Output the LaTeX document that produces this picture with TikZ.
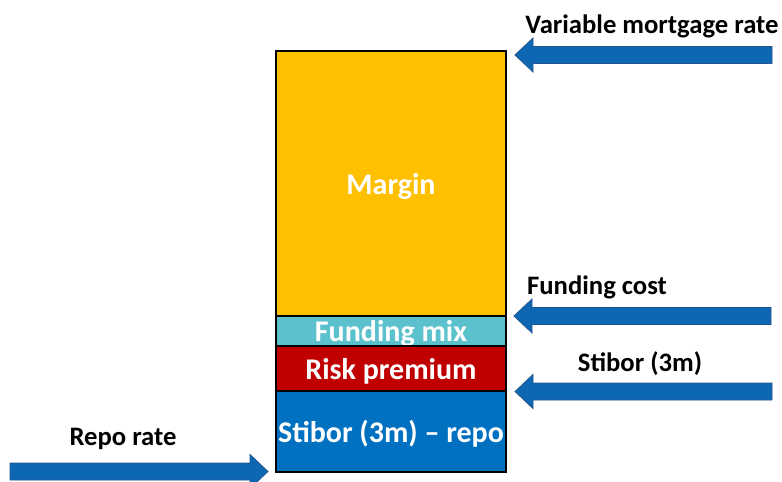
\documentclass[tikz,border=0pt]{standalone}
\usepackage{fontspec}
\setmainfont{Carlito}
\usetikzlibrary{positioning}

\definecolor{margincol}{RGB}{255,192,0}
\definecolor{mixcol}{RGB}{91,193,205}
\definecolor{riskcol}{RGB}{192,0,0}
\definecolor{stiborcol}{RGB}{0,112,192}
\definecolor{arrowcol}{RGB}{14,103,178}
\definecolor{arrowline}{RGB}{35,85,140}

\tikzset{pics/blockarrow/.style={code={
\draw[draw=arrowline, fill=arrowcol, line width=0.6pt, line join=miter] (0,0) -- (18,-17) -- (18,-8.5) -- (#1,-8.5) -- (#1,8.5) -- (18,8.5) -- (18,17) -- cycle;
}}}

\begin{document}
\begin{tikzpicture}[x=0.75pt, y=-0.75pt,
part/.style={draw=black, line width=2.2pt, minimum width=172.5pt, inner sep=0pt, outer sep=0pt, text depth=0pt, text=white, font=\bfseries\fontsize{22.5}{26}\selectfont},
lbl/.style={font=\bfseries\fontsize{20}{24}\selectfont}]
\useasboundingbox (0,0) rectangle (782,482);
% the stacked bar
\node [part, fill=margincol, minimum height=198.75pt, anchor=north west] (margin) at (276,51) {Margin};
\node [part, fill=mixcol, minimum height=22.5pt, below=0pt of margin] (mix) {Funding mix};
\node [part, fill=riskcol, minimum height=33.75pt, below=0pt of mix] (risk) {Risk premium};
\node [part, fill=stiborcol, minimum height=60.75pt, below=0pt of risk] (spread) {Stibor (3m) – repo};
% arrows
\pic (mortarrow) at (515,55) {blockarrow=257};
\pic (fundarrow) at (514,316) {blockarrow=257};
\pic (stiborarrow) at (515,391.5) {blockarrow=257};
\pic[xscale=-1] (repoarrow) at (268,471.5) {blockarrow=258};
% labels
\node [lbl] (mortlbl) at (652,26.5) {Variable mortgage rate};
\node [lbl] (fundlbl) at (597,287) {Funding cost};
\node [lbl] (stiborlbl) at (640,364) {Stibor (3m)};
\node [lbl] (repolbl) at (123,438.5) {Repo rate};
\end{tikzpicture}
\end{document}
